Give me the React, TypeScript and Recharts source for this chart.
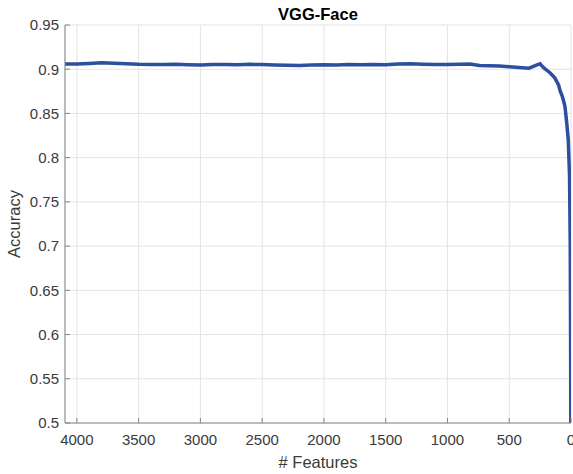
import React from 'react';
import { LineChart, Line, XAxis, YAxis, CartesianGrid } from 'recharts';

const features = [
  4096, 4000, 3900, 3800, 3700, 3600, 3500, 3400, 3300, 3200, 3100, 3000, 2900, 2800, 2700, 2600, 2500,
  2400, 2300, 2200, 2100, 2000, 1900, 1800, 1700, 1600, 1500, 1400, 1300, 1200, 1100, 1000, 900, 820,
  740, 660, 580, 500, 420, 340, 300, 270, 250, 235, 210, 170, 130, 100, 89, 70, 60, 49, 35, 22, 12, 6, 3, 1,
];
const accuracy = [
  0.906, 0.9058, 0.9065, 0.9072, 0.9068, 0.9062, 0.9056, 0.9054, 0.9052, 0.9055, 0.9051, 0.9049, 0.9052,
  0.9053, 0.905, 0.9055, 0.9052, 0.9049, 0.9045, 0.9042, 0.9047, 0.905, 0.9049, 0.9052, 0.905, 0.9053,
  0.9051, 0.9058, 0.9061, 0.9055, 0.9052, 0.9052, 0.9057, 0.9059, 0.9042, 0.9038, 0.9036, 0.9028, 0.902,
  0.9012, 0.9035, 0.9052, 0.9062, 0.9035, 0.9005, 0.896, 0.89, 0.882, 0.876, 0.869, 0.864, 0.858, 0.84,
  0.82, 0.78, 0.7, 0.58, 0.45,
];
const xTicks = [0, 500, 1000, 1500, 2000, 2500, 3000, 3500, 4000];
const yTicks = [0.5, 0.55, 0.6, 0.65, 0.7, 0.75, 0.8, 0.85, 0.9, 0.95];

const data = features.map((f, i) => ({ f, acc: accuracy[i] }));

const AX = '#858585';
const TXT = '#3a3a3a';
const FONT = '"Liberation Sans", Arial, Helvetica, sans-serif';
const fmtY = (v: number) => String(Number(v.toFixed(2)));

export default function App() {
  return (
    <div style={{ position: 'absolute', left: 0, top: 0, width: 573, height: 474, fontFamily: FONT, background: '#fff' }}>
      <div
        style={{
          position: 'absolute', left: 65, width: 506, top: 4, textAlign: 'center',
          fontWeight: 'bold', fontSize: 16.5, color: '#000', lineHeight: '20px',
        }}
      >
        VGG-Face
      </div>
      <LineChart width={573} height={474} data={data} margin={{ top: 25, right: 2, left: 0, bottom: 0 }}>
        <CartesianGrid stroke="#e4e4e4" strokeWidth={1} />
        <XAxis
          dataKey="f"
          type="number"
          domain={[0, 4096]}
          allowDataOverflow
          reversed
          ticks={xTicks}
          interval={0}
          height={51}
          tickSize={-5}
          tickMargin={16}
          stroke={AX}
          tick={{ fill: TXT, fontSize: 15, fontFamily: FONT }}
          label={(props: any) => {
            const vb = props.viewBox;
            return (
              <text x={vb.x + vb.width / 2} y={vb.y + 45} textAnchor="middle" fill={TXT} fontSize={16.5} fontFamily={FONT}>
                # Features
              </text>
            );
          }}
        />
        <XAxis
          xAxisId="top"
          orientation="top"
          dataKey="f"
          type="number"
          domain={[0, 4096]}
          allowDataOverflow
          reversed
          ticks={xTicks}
          interval={0}
          height={0}
          tickSize={-5}
          tick={false}
          stroke={AX}
        />
        <YAxis
          type="number"
          domain={[0.5, 0.95]}
          allowDataOverflow
          ticks={yTicks}
          interval={0}
          width={65}
          tickSize={-5}
          tickMargin={11}
          tickFormatter={fmtY}
          stroke={AX}
          tick={{ fill: TXT, fontSize: 15, fontFamily: FONT }}
          label={(props: any) => {
            const vb = props.viewBox;
            const cx = vb.x + 20;
            const cy = vb.y + vb.height / 2;
            return (
              <text x={cx} y={cy} transform={`rotate(-90 ${cx} ${cy})`} textAnchor="middle" fill={TXT} fontSize={16.5} fontFamily={FONT}>
                Accuracy
              </text>
            );
          }}
        />
        <YAxis
          yAxisId="r"
          orientation="right"
          type="number"
          domain={[0.5, 0.95]}
          allowDataOverflow
          ticks={yTicks}
          interval={0}
          width={0}
          tickSize={-5}
          tick={false}
          stroke={AX}
        />
        <Line
          dataKey="acc"
          type="linear"
          stroke="#2c4f9f"
          strokeWidth={3.5}
          dot={false}
          isAnimationActive={false}
        />
      </LineChart>
    </div>
  );
}
